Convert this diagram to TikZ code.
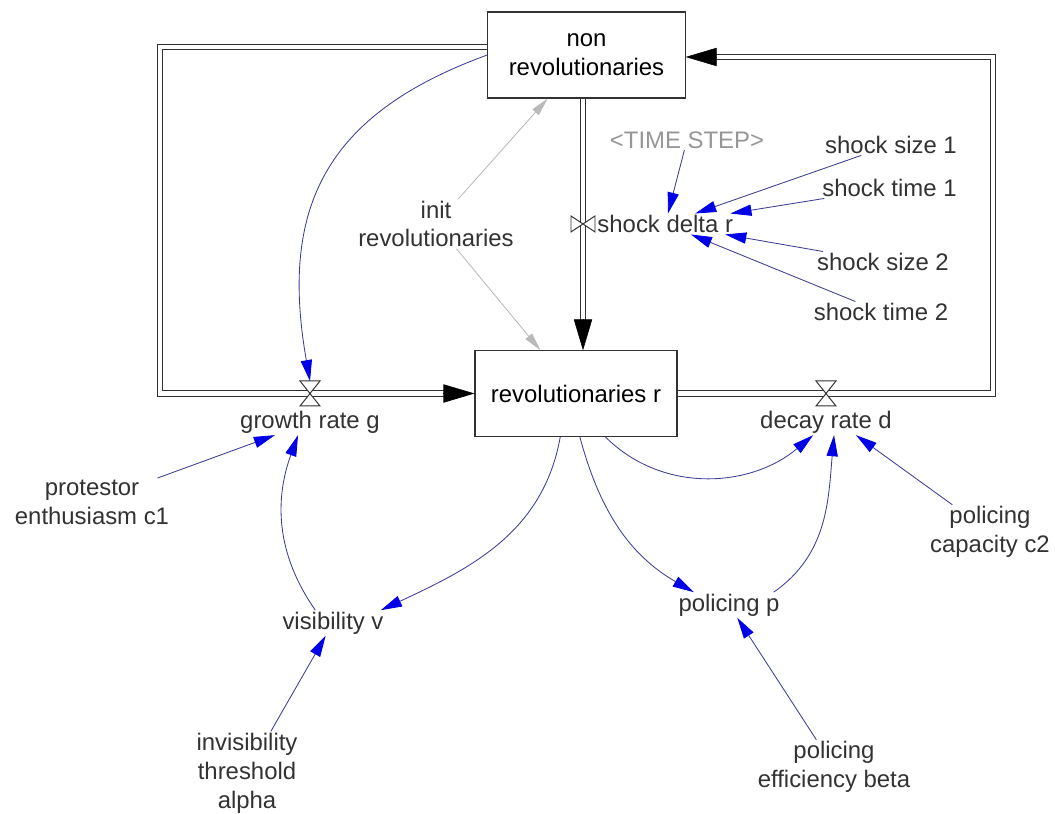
\documentclass[tikz,border=0pt]{standalone}
\usepackage{fontspec}
\setmainfont{Liberation Sans}
\usetikzlibrary{arrows.meta,positioning}

\definecolor{inkgray}{RGB}{50,50,50}
\definecolor{linkblue}{RGB}{60,60,150}
\definecolor{tipblue}{RGB}{0,0,230}
\definecolor{ghostgray}{RGB}{185,185,185}
\definecolor{stepgray}{RGB}{150,150,150}

\tikzset{
  stock/.style={draw=inkgray,line width=0.8pt,fill=white,align=center,inner sep=0pt},
  var/.style={align=center,inner sep=1pt,text=inkgray},
  pipe/.style={draw=inkgray,line width=0.8pt,double=white,double distance=3pt},
  flowtip/.style={-{Triangle[length=22pt,width=13pt]},black},
  valve/.style={draw=inkgray,fill=white,line width=0.7pt},
  link/.style={linkblue,line width=0.6pt,-{Triangle[length=15pt,width=8pt,color=tipblue]}},
  ghost/.style={ghostgray,line width=0.6pt,-{Triangle[length=13pt,width=6pt]}},
}

\begin{document}
\begin{tikzpicture}[x=0.025cm,y=0.025cm,font=\fontsize{17}{20.5}\selectfont]%
\useasboundingbox (0,0) rectangle (1055,814);
%% stocks
\node[stock,minimum width=4.93cm,minimum height=2.15cm] (nonrev) at (586.5,759) {non\\revolutionaries};
\node[stock,minimum width=5.05cm,minimum height=2.13cm] (rev) at (576,420.5) {revolutionaries r};
%% valves and pipe corners
\coordinate (gv) at (310,420.5);
\coordinate (dv) at (826,420.5);
\coordinate (sv) at (583,590);
\coordinate (lt) at (160,767);
\coordinate (rt) at (993,757);
\coordinate (rin) at (nonrev.east|-rt);
\coordinate (min) at (sv|-rev.north);
%% flows
\draw[pipe] (nonrev.west|-lt) -- (lt) -- (lt|-rev.west) -- ([xshift=-20pt]rev.west);
\draw[flowtip] ([xshift=-22pt]rev.west) -- (rev.west);
\draw[pipe] (rev.east) -- (rev.east-|rt) -- (rt) -- ([xshift=20pt]rin);
\draw[flowtip] ([xshift=22pt]rin) -- (rin);
\draw[pipe] (sv|-nonrev.south) -- ([yshift=20pt]min);
\draw[flowtip] ([yshift=22pt]min) -- (min);
\draw[valve,shift={(gv)}] (-10,12.5) -- (10,12.5) -- (-10,-12.5) -- (10,-12.5) -- cycle;
\draw[valve,shift={(dv)}] (-10,12.5) -- (10,12.5) -- (-10,-12.5) -- (10,-12.5) -- cycle;
\draw[valve,shift={(sv)}] (-12,8) -- (-12,-8) -- (12,8) -- (12,-8) -- cycle;
\node[var,below=0.4cm of gv] (gl) {growth rate g};
\node[var,below=0.4cm of dv] (dl) {decay rate d};
\node[var,right=0.32cm of sv] (sd) {shock delta r};
%% auxiliaries
\node[var,text=stepgray] (ts) at (687,674) {<TIME STEP>};
\node[var] (ss1) at (891,669) {shock size 1};
\node[var] (st1) at (889.5,626) {shock time 1};
\node[var] (ss2) at (883,552) {shock size 2};
\node[var] (st2) at (881,502) {shock time 2};
\node[var] (init) at (436,590) {init\\revolutionaries};
\node[var] (pe) at (92,312) {protestor\\enthusiasm c1};
\node[var] (vis) at (333,191) {visibility v};
\node[var] (ita) at (247,41) {invisibility\\threshold\\alpha};
\node[var] (pol) at (729,209) {policing p};
\node[var] (peb) at (834,47) {policing\\efficiency beta};
\node[var] (pc) at (990,282) {policing\\capacity c2};
%% initial values
\draw[ghost] (init) -- (nonrev);
\draw[ghost] (init) -- (rev);
%% shock inputs
\draw[link] (ts) -- (sd);
\draw[link] (ss1) -- (sd);
\draw[link] (st1) -- (sd);
\draw[link] (ss2) -- (sd);
\draw[link] (st2) -- (sd);
%% feedback links
\draw[link] (nonrev.west) to[out=200,in=100,looseness=1.2] ([yshift=0.31cm]gv);
\draw[link] (rev.250) to[out=260,in=25] (vis.15);
\draw[link] (vis.144) to[out=125,in=250] (gl.227);
\draw[link] (pe) -- (gl);
\draw[link] (ita) -- (vis);
\draw[link] (rev.275) to[out=285,in=150] (pol.160);
\draw[link] (rev.304) to[out=315,in=220] (dl.225);
\draw[link] (pol.16) to[out=35,in=265] (dl.302);
\draw[link] (pc) -- ([xshift=0.75cm]dl.south);
\draw[link] (peb) -- (pol);
\end{tikzpicture}
\end{document}
